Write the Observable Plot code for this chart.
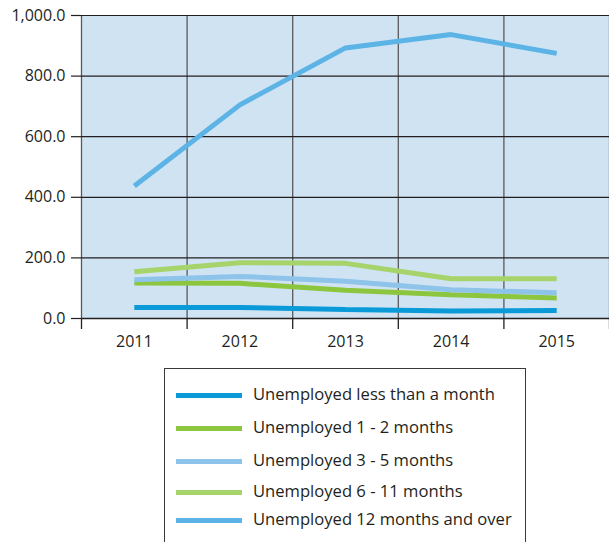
<!DOCTYPE html>
<html>
<head>
<meta charset="utf-8">
<script src="https://cdn.jsdelivr.net/npm/d3@7"></script>
<script src="https://cdn.jsdelivr.net/npm/@observablehq/plot@0.6"></script>
<style>
  html, body { margin: 0; padding: 0; background: #fff; }
  body { width: 609px; height: 542px; overflow: hidden; font-family: "Open Sans", sans-serif; color: #231f20; }
  #legend { position: relative; margin-left: 164px; margin-top: 13px; width: 362px; height: 200px;
            border: 1.5px solid #3a3a3c; border-bottom: none; box-sizing: border-box; }
  .row { position: absolute; left: 0; height: 20px; }
  .sw { position: absolute; left: 11px; width: 66px; height: 5px; }
  .lab { position: absolute; left: 88px; white-space: nowrap; font-size: 16.6px; line-height: 20px; }
</style>
</head>
<body>
<div id="chart"></div>
<div id="legend"></div>
<script>
const years = [2011, 2012, 2013, 2014, 2015];
const seriesNames = [
  "Unemployed less than a month",
  "Unemployed 1 - 2 months",
  "Unemployed 3 - 5 months",
  "Unemployed 6 - 11 months",
  "Unemployed 12 months and over"
];
const lessThanMonth = [36, 36, 30, 25, 26];
const months1to2 = [117, 116, 93, 78, 68];
const months3to5 = [128, 139, 123, 95, 85];
const months6to11 = [154, 184, 182, 131, 131];
const months12plus = [437, 705, 893, 937, 875];
const yTicks = [0, 200, 400, 600, 800, 1000];
const colors = ["#0b9ad8", "#8cc63f", "#8ec3ea", "#a6d36a", "#5cb3e5"];

const seriesValues = [lessThanMonth, months1to2, months3to5, months6to11, months12plus];
const data = [];
seriesValues.forEach((vals, si) => {
  vals.forEach((v, i) => data.push({series: seriesNames[si], year: years[i], value: v}));
});
const boundaries = years.map(y => y - 0.5).concat([years[years.length - 1] + 0.5]);

const chart = Plot.plot({
  width: 609,
  height: 355,
  marginLeft: 81,
  marginRight: 0,
  marginTop: 15,
  marginBottom: 37,
  style: {fontFamily: "Open Sans, sans-serif", fontSize: "16px", color: "#231f20", background: "#fff"},
  x: {type: "linear", domain: [boundaries[0], boundaries[boundaries.length - 1]]},
  y: {domain: [0, 1000]},
  color: {domain: seriesNames, range: colors},
  marks: [
    Plot.frame({fill: "#cfe3f3", stroke: null}),
    Plot.ruleX(boundaries, {stroke: "#58595b", strokeWidth: 1.3}),
    Plot.ruleY(yTicks, {stroke: "#231f20", strokeWidth: 1.2}),
    Plot.axisY(yTicks, {tickSize: 10, tickPadding: 6, tickFormat: d3.format(",.1f"), label: null, stroke: "#231f20", strokeWidth: 1.2, fill: "#231f20", fontSize: 16}),
    Plot.axisX(boundaries, {tickSize: 11, tickFormat: () => "", label: null, stroke: "#231f20", strokeWidth: 1.3}),
    Plot.axisX(years, {tickSize: 0, tickPadding: 17, tickFormat: d => String(d), label: null, fill: "#231f20", fontSize: 16}),
    Plot.ruleY([0], {stroke: "#231f20", strokeWidth: 1.6}),
    Plot.lineY(data, {x: "year", y: "value", z: "series", stroke: "series", strokeWidth: 5, strokeLinecap: "butt", strokeLinejoin: "miter"})
  ]
});
document.getElementById("chart").appendChild(chart);

const legend = document.getElementById("legend");
const rowTops = [26, 59, 92, 123, 151];
seriesNames.forEach((name, i) => {
  const row = document.createElement("div");
  row.className = "row";
  row.style.top = (rowTops[i] - 10) + "px";
  row.style.width = "100%";
  const sw = document.createElement("div");
  sw.className = "sw";
  sw.style.background = colors[i];
  sw.style.top = "7.5px";
  const lab = document.createElement("div");
  lab.className = "lab";
  lab.textContent = name;
  lab.style.top = "-1px";
  row.appendChild(sw);
  row.appendChild(lab);
  legend.appendChild(row);
});
</script>
</body>
</html>
